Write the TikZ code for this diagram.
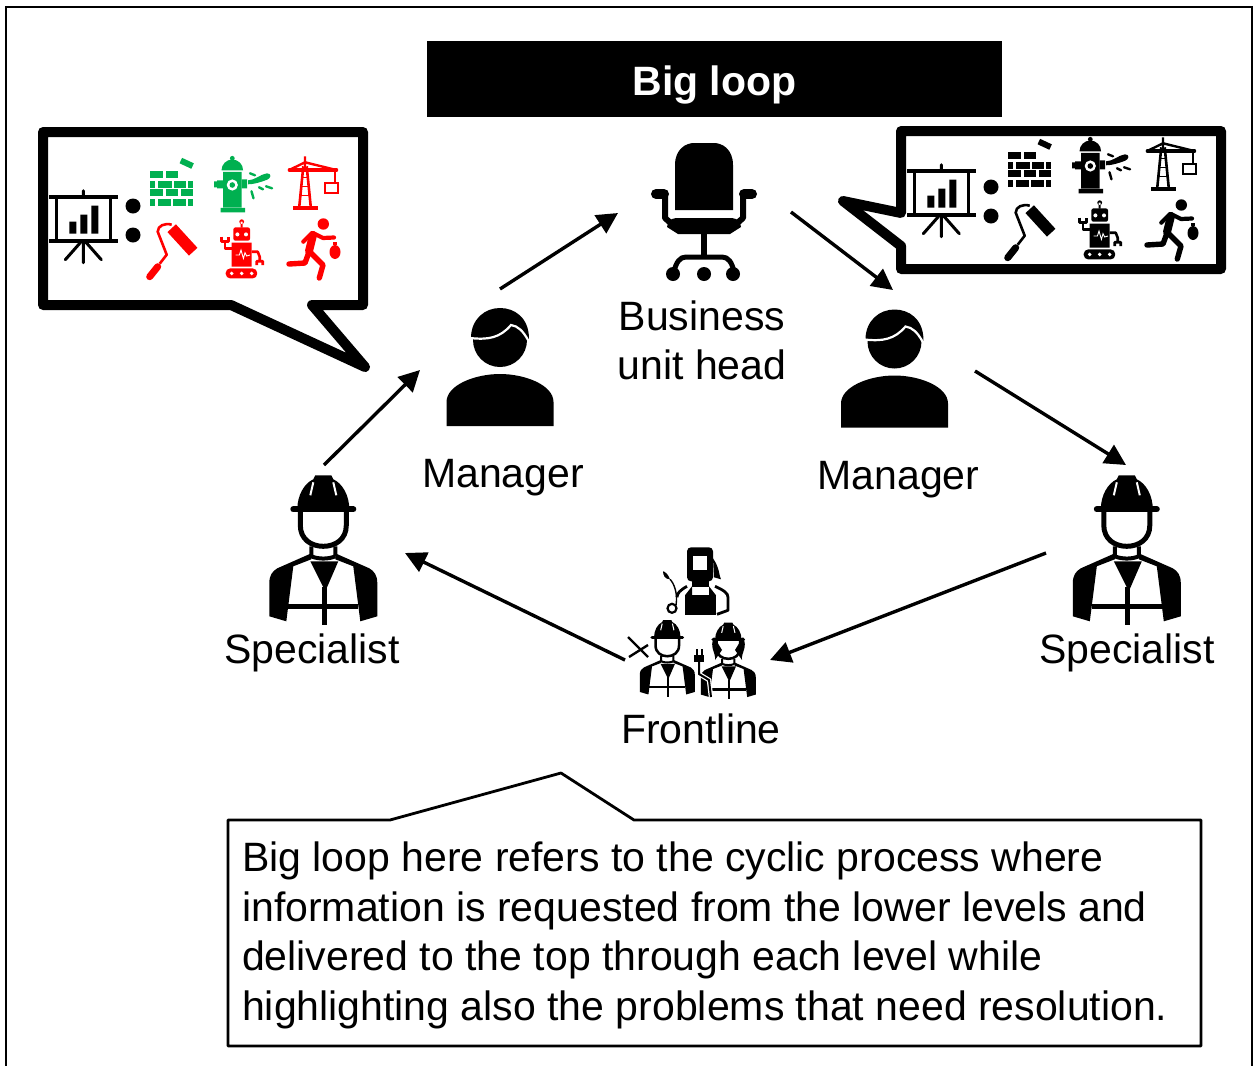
\documentclass[tikz,border=0pt]{standalone}
\usepackage{fontspec}
\setmainfont{Liberation Sans}
\usetikzlibrary{arrows.meta}
\definecolor{igood}{HTML}{00B050}
\definecolor{ibad}{HTML}{FF0000}
\newcommand{\lbl}{\fontsize{41}{49.4}\selectfont}
\tikzset{
  pics/chart/.style={code={
    \draw[line width=3.6] (-34,-30) -- (35,-30) (-34,14) -- (35,14);
    \draw[line width=3.2] (-27,-30) -- (-27,14) (27,-30) -- (27,14);
    \draw[line width=3,line cap=round] (0,-36) -- (0,-30) (0,14) -- (0,36) (-3,16) -- (-18,33) (3,16) -- (18,33);
    \fill (-14,-5) rectangle (-7,7) (-3,-12) rectangle (4,7) (8,-21) rectangle (15,7);
  }},
  pics/bricks/.style={code={
    \foreach \xa/\xb/\ya in {-21.7/-9/-12.7,-6/6.7/-12.7,
      -21.7/-16.7/-2.7,-13.3/0/-2.7,2.7/14/-2.7,16.7/21.7/-2.7,
      -21.7/-9/6,-6/6/6,9/21.7/6,
      -21.7/-16.7/16,-13.3/-1/16,1.7/14/16,16.7/21.7/16}
      \fill (\xa,\ya) rectangle (\xb,\ya+7);
    \fill[rotate around={-25:(15,-20)}] (8.5,-23) rectangle (21.5,-17);
  }},
  pics/hydrant/.style={code={
    \fill (-18.5,-13) arc (180:360:10.8) -- cycle;
    \fill (-7.7,-25) circle[radius=2.4];
    \fill (-17,-11.5) rectangle (1.7,24) (-19.5,24.5) rectangle (5,29);
    \fill (-23,-3) rectangle (-17,5) (-26,-2) rectangle (-23,4) (1.7,-4) rectangle (7,5);
    \fill[white] (-7.7,1.7) circle[radius=5.6];
    \fill (-7.7,1.7) circle[radius=2.8];
    \fill (8,-3) .. controls (15,-3) and (20,-9) .. (27,-10) .. controls (32,-10) and (31,-5) .. (27,-3.5) .. controls (20,-1) and (14,1) .. (8,1) -- cycle;
    \draw[line width=2.4,line cap=round] (10,-10) -- (15,-8) (19,4) -- (23,6) (26,3) -- (32,5) (11.5,8) -- (13.5,15);
  }},
  pics/crane/.style={code={
    \draw[line width=2.6] (-10,-17) -- (-14,23) (-6.6,-17) -- (-2.6,23);
    \draw[line width=1.6] (-11,-6) -- (-5.6,-6) (-12,3) -- (-4.6,3) (-13,12) -- (-3.6,12);
    \draw[line width=3.2,line cap=round] (-24,-13.3) -- (23.3,-13.3);
    \draw[line width=2.4] (-8.3,-27) -- (-8.3,-13) (-24,-13.3) -- (-8.3,-21) -- (23,-13.3);
    \draw[line width=1.8] (21.7,-13.3) -- (21.7,0);
    \draw[line width=2.2] (11.7,0) rectangle (25,9.3);
    \fill (-20.7,22.7) rectangle (5,26.7);
  }},
  pics/roller/.style={code={
    \draw[line width=11.5] (0,-23.5) -- (21.5,0);
    \draw[line width=2.6,line join=round] (0,-27) .. controls (-7,-29) and (-14,-26) .. (-14,-20) -- (-5,3) -- (-12,12);
    \draw[line width=7,line cap=round] (-14,15) -- (-22,25);
  }},
  pics/robot/.style={code={
    \fill[rounded corners=2] (-8.3,-24.3) rectangle (8.3,-11);
    \fill (0,-30) circle[radius=2.4] (-1,-30) rectangle (1,-24) (-10,-9) rectangle (10,15);
    \fill[white] (-4.3,-17.3) circle[radius=2] (4.3,-17.3) circle[radius=2];
    \draw[white,line width=0.9] (-6,3.3) -- (-2.3,3.3) -- (-0.7,-1.7) -- (1.7,6.7) -- (3.3,1) -- (5,4.3) -- (8.3,3.3);
    \draw[line width=2.6,line join=round] (-10,-3) -- (-16.7,-3) -- (-16.7,-10) (-20,-15) -- (-20,-10.5) -- (-13.5,-10.5) -- (-13.5,-15);
    \draw[line width=2.6,line join=round] (10,0) -- (16,0) -- (18,5) -- (18,9) (15,13.5) -- (15,9.5) -- (21,9.5) -- (21,13.5);
    \fill[rounded corners=4.5] (-16,16.7) rectangle (15.5,26.7);
    \fill[white] (-10,21.7) circle[radius=1.9] (0,21.7) circle[radius=1.9] (10,21.7) circle[radius=1.9];
  }},
  pics/runner/.style={code={
    \fill (8.3,-26) circle[radius=5.7];
    \draw[line width=8,line cap=round] (-2,-15) -- (-6,1);
    \draw[line width=4.2,line cap=round,line join=round] (-3,-17) -- (-11.7,-8.3) (-2,-17) -- (8,-12) -- (19,-12.5);
    \draw[line width=5.4,line cap=round,line join=round] (-6,2) -- (-10,13) -- (-26,14) (-5,2) -- (8,15) -- (4.3,28);
    \fill (20,2) ellipse[x radius=5.5,y radius=7];
    \fill (18,-8) rectangle (22,-5);
  }},
  pics/probset/.style 2 args={code={
    \pic[color=#1] at (171.7,183.3) {bricks};
    \pic[color=#1] at (240,183.3) {hydrant};
    \pic[color=#2] at (313.3,183.3) {crane};
    \pic[color=#2] at (171.7,251.7) {roller};
    \pic[color=#2] at (241.7,251.7) {robot};
    \pic[color=#2] at (315,250) {runner};
    \fill[black] (133,206) circle[radius=7.5] (133,235) circle[radius=7.5];
  }},
  pics/manager/.style={code={
    \fill (-53.5,89) -- (-53.5,65) .. controls (-53.5,48) and (-25,37) .. (0,37) .. controls (25,37) and (53.5,48) .. (53.5,65) -- (53.5,89) -- cycle;
    \fill (0,3) circle[radius=27];
    \fill (-29,1) .. controls (-29,-18) and (-15,-29) .. (0,-29) .. controls (14,-29) and (29,-20) .. (29,2) -- cycle;
    \draw[white,line width=2.2] (-30,1) .. controls (-12,3) and (0,1) .. (11,-12) .. controls (18,-11) and (23,-6) .. (28,3);
  }},
  pics/worker/.style={code={
    \fill (-26,-4) .. controls (-26,-18) and (-19,-30) .. (-10,-34) -- (-8,-38) -- (8,-38) -- (10,-34) .. controls (19,-30) and (26,-18) .. (26,-4) -- cycle;
    \draw[line width=6*#1,line cap=round] (-30,-4) -- (30,-4);
    \draw[white,line width=2*#1] (-10,-31) -- (-13,-18) (10,-31) -- (13,-18);
    \draw[line width=5*#1] (-23,-3) -- (-23,12) .. controls (-23,26) and (-12,33) .. (0,33) .. controls (12,33) and (23,26) .. (23,12) -- (23,-3);
    \draw[line width=4*#1] (-12,33) -- (-12,43) (12,33) -- (12,43) (-12,43) .. controls (-5,46) and (5,46) .. (12,43);
    \fill (-12,40) -- (-46,55) .. controls (-51,58) and (-54,62) .. (-54,70) -- (-54,103) -- (-37,108) -- (-30,53) -- (-12,46) -- cycle;
    \fill (12,40) -- (46,55) .. controls (51,58) and (54,62) .. (54,70) -- (54,103) -- (37,108) -- (30,53) -- (12,46) -- cycle;
    \fill (-13,48) -- (15,48) -- (2,78) -- cycle;
    \draw[line width=5*#1] (1,74) -- (1,112);
    \draw[line width=4.5*#1] (-35,93) -- (35,93);
  }},
  pics/worker/.default=1
}
\begin{document}
\begin{tikzpicture}[x=1pt,y=-1pt]
    \tikzstyle{bubble}=[fill=white,draw=black,line width=10,line join=round]
    \tikzstyle{link}=[line width=3.4,-{Triangle[length=21,width=21]}]
    \tikzstyle{note}=[fill=white,draw=black,line width=2.8,line join=round]
    \tikzstyle{tag}=[inner sep=0pt,font=\lbl]
    \useasboundingbox (0,0) rectangle (1259,1066);
    \fill[white] (0,0) rectangle (1259,1066);
    \draw[line width=2.6] (6,1067) -- (6,7) -- (1252,7) -- (1252,1067);
    % title
    \node[fill=black,text=white,inner sep=0pt,minimum width=575,minimum height=76,text height=32,text depth=0,font=\lbl\bfseries] (title) at (714.5,79) {Big loop};
    % left speech bubble
    \draw[bubble] (43,132) -- (363,132) -- (363,305) -- (312,305) -- (365,367) -- (231,305) -- (43,305) -- cycle;
    \pic at (83.3,226.7) {chart};
    \pic at (0,0) {probset={igood}{ibad}};
    % right speech bubble
    \draw[bubble] (901,131) -- (1221,131) -- (1221,269) -- (901,269) -- (901,246) -- (843,201) -- (901,213) -- cycle;
    \pic at (941.3,200.7) {chart};
    \pic at (858,-19) {probset={black}{black}};
    % office chair
    \begin{scope}[shift={(704,210)}]
      \fill (-29,0) -- (-29,-45) .. controls (-29,-61) and (-18,-67) .. (-10,-67) -- (10,-67) .. controls (18,-67) and (29,-61) .. (29,-45) -- (29,0) -- cycle;
      \draw[line width=10,line cap=round] (-48,-16) -- (-40,-16) (40,-16) -- (48,-16);
      \draw[line width=6,line join=round] (-39,-16) -- (-39,8) -- (-30,16) (39,-16) -- (39,8) -- (30,16);
      \fill (-36,13) .. controls (-33,9) and (-31,8) .. (-28,8) -- (28,8) .. controls (31,8) and (33,9) .. (36,13) -- (37,17) -- (26,24) -- (-26,24) -- (-37,17) -- cycle;
      \draw[line width=6] (0,23) -- (0,49);
      \draw[line width=5] (-30,62) .. controls (-28,52) and (-24,47) .. (-18,47) -- (18,47) .. controls (24,47) and (28,52) .. (30,62);
      \fill (-31,64) circle[radius=7] (0,64) circle[radius=7] (29,64) circle[radius=7];
    \end{scope}
    % people
    \pic at (500,337) {manager};
    \pic at (894.5,338.5) {manager};
    \pic at (323.3,513.3) {worker};
    \pic at (1126.8,513.3) {worker};
    \fill (714,637) .. controls (709,648) and (716,652) .. (715,660) -- (722,650) -- cycle;
    \fill (743,637) .. controls (748,648) and (741,652) .. (742,660) -- (735,650) -- cycle;
    \pic[scale=0.51] at (667.3,639.4) {worker=0.51};
    \pic[scale=0.51] at (728.3,642) {worker=0.51};
    % welder
    \begin{scope}[shift={(700,583.3)}]
      \fill[rounded corners=4] (-13,-36) rectangle (13,-2);
      \fill[white] (-7,-27) rectangle (7,-13);
      \fill (13,-25) .. controls (20,-15) and (19,-7) .. (21,-4) -- (14,-6) -- cycle;
      \fill (-8,-3) rectangle (9,4);
      \fill (-15,12) rectangle (16,32);
      \fill (-15,12) -- (-8,3) -- (-8,12) -- cycle (16,12) -- (9,3) -- (9,12) -- cycle;
      \draw[line width=2.8,line join=round] (-13,3) .. controls (-20,7) and (-23,10) .. (-23,14) (15,3) .. controls (24,7) and (28,10) .. (28,14) -- (28,27) -- (17,31);
      \draw[line width=2.2] (-28,25) circle[radius=4.5];
      \draw[line width=1.4] (-24,22) .. controls (-22,10) and (-26,0) .. (-30,-4);
      \fill (-30,-4) .. controls (-32,-10) and (-36,-12) .. (-37,-12) .. controls (-37,-8) and (-35,-4) .. (-30,-4) -- cycle;
    \end{scope}
    % wrench and plug
    \draw[line width=2.4] (628,637) -- (648,657) (648,645) -- (629,657);
    \draw[white,line width=4.5] (699,661) -- (699,674) -- (709,680) -- (711,697);
    \draw[line width=2.2] (697,649) -- (697,656) (702,649) -- (702,656);
    \fill (694,655) rectangle (704,662);
    \draw[line width=2] (699,661) -- (699,674) -- (709,680) -- (711,697);
    % labels
    \node[tag,align=center] (h) at (702,340.5) {Business\\unit head};
    \node[tag] (m1) at (503,478) {Manager};
    \node[tag] (m2) at (898.5,480) {Manager};
    \node[tag] (s1) at (312,653) {Specialist};
    \node[tag] (s2) at (1127,653) {Specialist};
    \node[tag] (f) at (701,728.5) {Frontline};
    % arrows
    \coordinate (a1) at (324,465);
    \coordinate (a2) at (420,370);
    \coordinate (a3) at (500,289);
    \coordinate (a4) at (618,213);
    \coordinate (a5) at (791,212);
    \coordinate (a6) at (893,290);
    \coordinate (a7) at (975,371);
    \coordinate (a8) at (1126,465);
    \coordinate (a9) at (1046,553);
    \coordinate (a10) at (770,660);
    \coordinate (a11) at (625,660);
    \coordinate (a12) at (405,553);
    \draw[link] (a1) -- (a2);
    \draw[link] (a3) -- (a4);
    \draw[link] (a5) -- (a6);
    \draw[link] (a7) -- (a8);
    \draw[link] (a9) -- (a10);
    \draw[link] (a11) -- (a12);
    % note at the bottom
    \draw[note] (228,820) -- (390,820) -- (561,773) -- (634,820) -- (1201,820) -- (1201,1046) -- (228,1046) -- cycle;
    \node[tag,align=left,anchor=north west] (n) at (242,842) {Big loop here refers to the cyclic process where\\information is requested from the lower levels and\\delivered to the top through each level while\\highlighting also the problems that need resolution.};
  \end{tikzpicture}
\end{document}
